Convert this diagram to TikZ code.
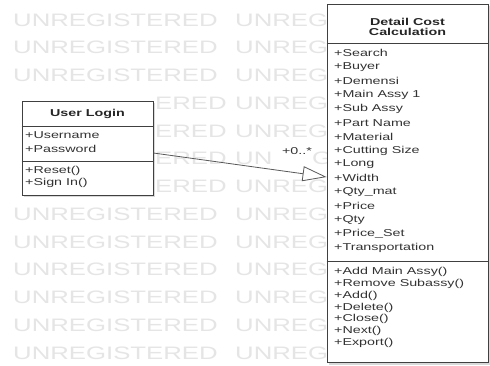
\documentclass[tikz,border=0pt]{standalone}
\usepackage{fontspec}
\setmainfont{Liberation Sans}
\usepackage{graphicx}
\usetikzlibrary{arrows.meta}
\newcommand{\stretchtxt}[1]{\scalebox{1.43}[1]{#1}}
\begin{document}
\begin{tikzpicture}[x=1pt,y=-1pt,
  wm/.style={text=black!10, font=\fontsize{18}{18}\selectfont, anchor=west, inner sep=0},
  box/.style={draw=black!75, fill=white, line width=0.9pt, inner sep=0},
  shadow/.style={fill=black!15, draw=none},
  divider/.style={draw=black!75, line width=0.9pt},
  title/.style={inner sep=0, text=black!85, font=\fontsize{10}{10}\selectfont\bfseries},
  item/.style={anchor=west, inner sep=0, text=black!80, font=\fontsize{10}{10}\selectfont},
  conn/.style={draw=black!65, line width=0.8pt, -{Triangle[open, length=24pt, width=15pt, fill=white]}}]
\useasboundingbox (0,0) rectangle (490,365);
\fill[white] (0,0) rectangle (490,365);
% watermark (only the parts not hidden by the class boxes)
\foreach \k in {0,1,2,7,8,9,10,11,12}{
  \node[wm] (wa\k) at (13,{20+27.75*\k}) {\stretchtxt{UNREGISTERED}};
}
\foreach \k in {3,4,5,6}{
  \node[wm] (wa\k) at (155,{20+27.75*\k}) {\stretchtxt{ERED}};
}
\foreach \k in {0,1,2,3,4,6,7,8,9,10,11,12}{
  \node[wm] (wb\k) at (235,{20+27.75*\k}) {\stretchtxt{UNREG}};
}
% row under the multiplicity label: only the letters clear of it
\node[wm] (wb5) at (235,{20+27.75*5}) {\stretchtxt{UN}};
\node[wm] (wc5) at (312,{20+27.75*5}) {\stretchtxt{G}};
% shadows
\fill[shadow] (24,103) rectangle (155,197);
\fill[shadow] (329,6) rectangle (490,365);
% User Login class
\node[box, minimum width=131, minimum height=94] (login) at (87.5,148) {};
\draw[divider] (login.west |- 0,126) -- (login.east |- 0,126);
\draw[divider] (login.west |- 0,161) -- (login.east |- 0,161);
\node[title] (lt) at (87.5,114) {\stretchtxt{User Login}};
\node[item] (l1) at (25,135) {\stretchtxt{+Username}};
\node[item] (l2) at (25,148.5) {\stretchtxt{+Password}};
\node[item] (l3) at (25,171) {\stretchtxt{+Reset()}};
\node[item] (l4) at (25,183) {\stretchtxt{+Sign In()}};
% Detail Cost Calculation class
\node[box, minimum width=161, minimum height=358] (calc) at (407.5,183) {};
\draw[divider] (calc.west |- 0,43) -- (calc.east |- 0,43);
\draw[divider] (calc.west |- 0,261) -- (calc.east |- 0,261);
\node[title] (ct1) at (407.5,21.5) {\stretchtxt{Detail Cost}};
\node[title] (ct2) at (407.5,32) {\stretchtxt{Calculation}};
\foreach \t [count=\i from 0] in {+Search,+Buyer,+Demensi,+Main Assy 1,+Sub Assy,+Part Name,+Material,+Cutting Size,+Long,+Width,+Qty\_mat,+Price,+Qty,+Price\_Set,+Transportation}{
  \node[item] (a\i) at (334,{53+13.93*\i}) {\stretchtxt{\t}};
}
\foreach \t [count=\i from 0] in {+Add Main Assy(),+Remove Subassy(),+Add(),+Delete(),+Close(),+Next(),+Export()}{
  \node[item] (m\i) at (334,{272+11.83*\i}) {\stretchtxt{\t}};
}
% connector
\draw[conn] (login.east |- 0,153) -- (calc.west |- 0,177);
\node[item, anchor=center] (mult) at (297,151) {\stretchtxt{+0..*}};
\end{tikzpicture}
\end{document}
